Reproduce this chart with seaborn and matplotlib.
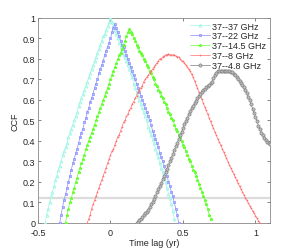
import numpy as np
import pandas as pd
import matplotlib
matplotlib.use("Agg")
import matplotlib.pyplot as plt
import seaborn as sns

# CCF curves, lag step 0.01 yr, first lag given for each series
labels = ["37--37 GHz", "37--22 GHz", "37--14.5 GHz", "37--8 GHz", "37--4.8 GHz"]
lag_start = [-0.45, -0.35, -0.31, -0.16, 0.18]
lag_step = 0.01

ccf_37 = [0, .04, .07, .10, .13, .15, .18, .21, .23, .26, .28, .30, .33, .35, .37, .39,
          .42, .44, .46, .48, .50, .52, .54, .57, .59, .61, .63, .65, .67, .69, .71, .73,
          .75, .77, .79, .81, .83, .85, .87, .89, .91, .92, .94, .96, .98, 1.00,
          .98, .96, .94, .92, .90, .88, .86, .84, .82, .81, .79, .77, .75, .73, .71, .68,
          .66, .64, .62, .60, .58, .56, .54, .52, .50, .47, .45, .43, .41, .39, .36, .34,
          .32, .29, .27, .25, .22, .20, .17, .14, .12, .09, .06, .02]
ccf_22 = [0, .04, .08, .11, .14, .17, .20, .23, .26, .29, .31, .34, .36, .39, .42, .44,
          .46, .49, .51, .54, .56, .59, .61, .63, .66, .68, .70, .73, .75, .77, .79, .82,
          .84, .86, .88, .90, .93, .95, .97,
          .95, .93, .91, .89, .87, .86, .84, .82, .80, .78, .76, .74, .72, .70, .68, .66,
          .64, .62, .60, .58, .56, .54, .52, .50, .48, .45, .43, .41, .39, .37, .34, .32,
          .30, .28, .25, .23, .20, .18, .15, .13, .10, .07, .04, 0]
ccf_14 = [0, .04, .07, .10, .12, .15, .17, .20, .22, .25, .27, .29, .31, .33, .36, .38,
          .40, .42, .44, .46, .48, .50, .52, .54, .56, .58, .60, .62, .64, .66, .68, .70,
          .72, .74, .76, .78, .80, .82, .83, .85, .87, .89, .91, .93, .945,
          .93, .92, .90, .89, .87, .86, .84, .83, .82, .80, .79, .77, .76, .74, .73, .71,
          .70, .68, .67, .65, .64, .62, .61, .59, .58, .56, .54, .53, .51, .50, .48, .46,
          .45, .43, .42, .40, .38, .37, .35, .33, .31, .30, .28, .26, .25, .23, .21, .19,
          .17, .15, .13, .11, .09, .07, .04, .02]
ccf_8 = [0, .02, .04, .07, .09, .11, .13, .15, .17, .19, .21, .23, .25, .27, .29, .31,
         .33, .35, .36, .38, .40, .42, .43, .45, .47, .49, .50, .52, .53, .55, .56, .58,
         .59, .61, .62, .64, .65, .66, .67, .69, .70, .71, .72, .73, .74, .75, .76, .77,
         .78, .79, .80, .80, .81, .815, .82, .82, .825,
         .82, .82, .82, .82, .815, .81, .81, .80, .79, .79, .78, .77, .76, .75, .74, .725,
         .71, .693, .675, .657, .639, .621, .603, .585, .567, .549, .531, .513, .495,
         .478, .461, .444, .427, .411, .395, .379, .363, .347, .331, .315, .299, .283,
         .268, .253, .238, .223, .208, .193, .179, .165, .151, .137, .123, .110, .097,
         .084, .071, .059, .047, .035, .023, .011, 0]
ccf_48 = [0, .005, .012, .02, .03, .038, .046, .055, .065, .077, .09, .104, .118, .133,
          .149, .165, .181, .197, .213, .23, .247, .265, .283, .301, .319, .337, .355,
          .373, .391, .409, .427, .445, .463, .481, .498, .514, .53, .545, .559, .572,
          .585, .597, .609, .62, .63, .639, .647, .654, .661, .667, .674, .681, .69,
          .705, .722, .733, .739, .741, .742, .743, .743, .743, .742, .741, .740, .738,
          .734, .728, .721, .713, .704, .694, .684, .673, .661, .647, .632, .616, .598,
          .578, .557, .536, .515, .495, .475, .457, .441, .427, .414, .404, .395, .389,
          .385]
series = [ccf_37, ccf_22, ccf_14, ccf_8, ccf_48]

colors = ["#9ff5e4", "#8a8eff", "#66ff33", "#ff7070", "#808080"]
markers = ["^", "s", "*", ".", "o"]
msizes = [2.2, 1.8, 2.2, 1.5, 2.3]
faces = ["#c8fbef", "#b4b7ff", "#66ff33", "#ff7070", "#c0c0c0"]

ref_level = 0.122

sns.set_style("ticks")
plt.rcParams["font.family"] = ["Liberation Sans", "DejaVu Sans"]
plt.rcParams["axes.unicode_minus"] = False

fig = plt.figure(figsize=(2.99, 2.53), dpi=100)
ax = fig.add_axes([0.127, 0.115, 0.776, 0.81])

ax.axhline(ref_level, color="#dcdcdc", lw=1.6, zorder=1)

for lab, start, ccf, c, m, ms, fc in zip(labels, lag_start, series, colors, markers, msizes, faces):
    df = pd.DataFrame({"lag": start + lag_step * np.arange(len(ccf)), "ccf": ccf})
    sns.lineplot(data=df, x="lag", y="ccf", ax=ax, color=c, lw=0.5, marker=m,
                 markersize=ms, markerfacecolor=fc, markeredgecolor=c,
                 markeredgewidth=0.5, label=lab, sort=False, zorder=3)

ax.set_xlim(-0.5, 1.1)
ax.set_ylim(0, 1)
ax.set_xticks([-0.5, 0, 0.5, 1])
ax.set_xticklabels(["-0.5", "0", "0.5", "1"])
ax.set_yticks(np.arange(0, 1.01, 0.1))
ax.set_yticklabels(["0", "0.1", "0.2", "0.3", "0.4", "0.5", "0.6", "0.7", "0.8", "0.9", "1"])
ax.tick_params(direction="in", length=2.5, width=0.5, labelsize=6.5, pad=2,
               top=True, right=True, color="#555555")
ax.tick_params(axis="x", pad=3.5)
for s in ax.spines.values():
    s.set_linewidth(0.6)
    s.set_color("#888888")
ax.set_xlabel("Time lag (yr)", fontsize=6.5, labelpad=1)
ax.set_ylabel("CCF", fontsize=6.5, labelpad=2)

leg = ax.legend(loc="upper right", frameon=False, fontsize=6.5, handlelength=2.2,
                handletextpad=0.3, labelspacing=0.1, borderaxespad=0.2,
                borderpad=0.2)

fig.savefig("out.png", dpi=100)
